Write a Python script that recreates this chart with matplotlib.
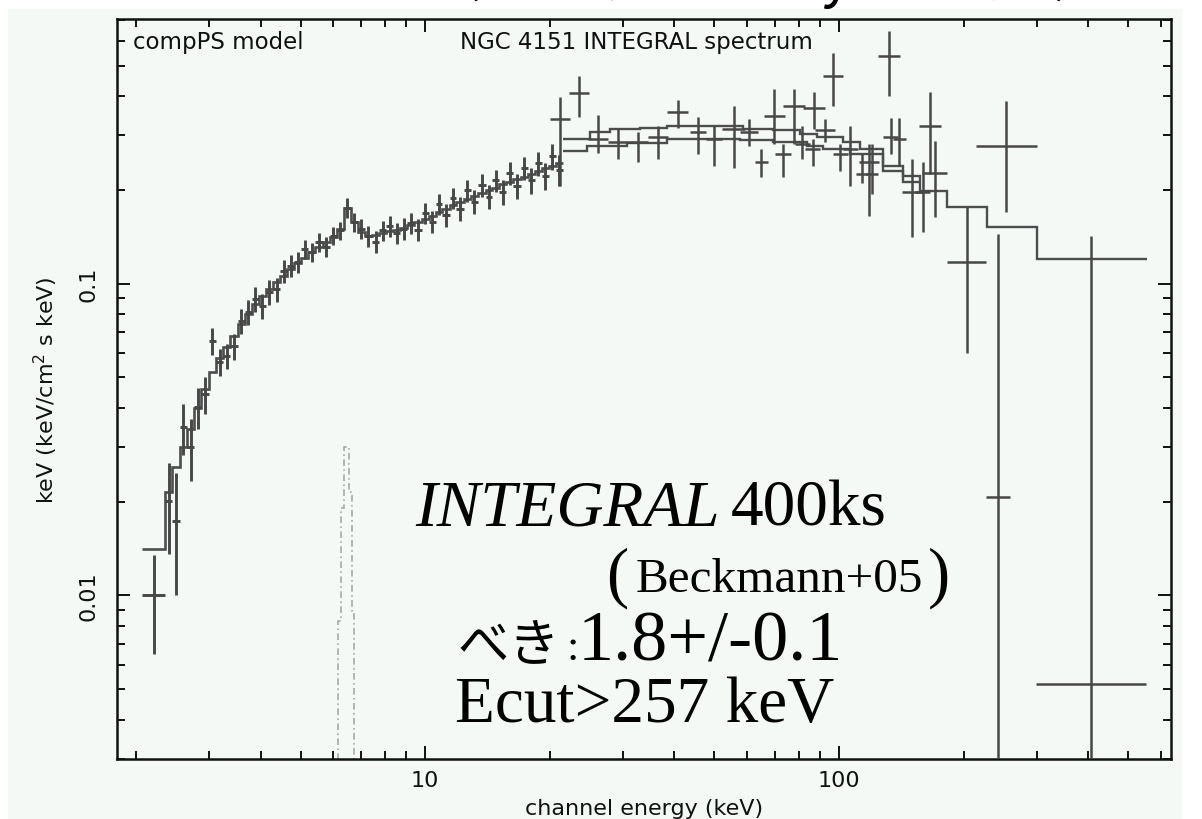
import matplotlib
matplotlib.use('Agg')
import matplotlib.pyplot as plt
import numpy as np
from matplotlib.ticker import LogLocator, NullFormatter
from matplotlib.patches import Rectangle

W, H = 1202, 820
BG = '#f4f9f6'
DATA_C = '#474747'
MODEL_C = '#4d4d4d'
FE_C = '#a8a8a8'

# ---------------- data ----------------
# JEM-X (low energy) channel edges [keV], flux, error, model
jemx_edges = [2.07, 2.35, 2.45, 2.55, 2.66, 2.77, 2.88, 3.00, 3.12, 3.25, 3.38,
              3.52, 3.66, 3.81, 3.96, 4.12, 4.29, 4.46, 4.64, 4.83, 5.02, 5.22,
              5.43, 5.65, 5.88, 6.11, 6.36, 6.61, 6.88, 7.15, 7.44, 7.74, 8.05,
              8.37, 8.71, 9.06, 9.42, 9.80, 10.2, 10.6, 11.0, 11.5, 11.9, 12.4,
              12.9, 13.4, 14.0, 14.5, 15.1, 15.7, 16.3, 17.0, 17.7, 18.4, 19.1,
              19.9, 20.7, 21.5]
jemx_flux = [0.0100, 0.0201, 0.0173, 0.0347, 0.0300, 0.0402, 0.0443, 0.0654,
             0.0560, 0.0586, 0.0630, 0.0758, 0.0810, 0.0892, 0.0847, 0.0940,
             0.0960, 0.1096, 0.1140, 0.1170, 0.1290, 0.1260, 0.1360, 0.1310,
             0.1420, 0.1480, 0.1750, 0.1570, 0.1500, 0.1420, 0.1360, 0.1480,
             0.1530, 0.1450, 0.1500, 0.1560, 0.1490, 0.1680, 0.1580, 0.1800,
             0.1660, 0.1880, 0.1740, 0.1990, 0.1830, 0.2070, 0.1900, 0.2140,
             0.1970, 0.2260, 0.2050, 0.2350, 0.2140, 0.2430, 0.2220, 0.2560,
             0.2320]
jemx_err = [0.0035, 0.0065, 0.0073, 0.0065, 0.0068, 0.0060, 0.0060, 0.0065,
            0.0055, 0.0055, 0.0060, 0.0070, 0.0075, 0.0080, 0.0080, 0.0085,
            0.0085, 0.0090, 0.0090, 0.0090, 0.0090, 0.0090, 0.0095, 0.0095,
            0.0095, 0.0100, 0.0130, 0.0110, 0.0110, 0.0110, 0.0110, 0.0110,
            0.0115, 0.0115, 0.0120, 0.0120, 0.0125, 0.0130, 0.0130, 0.0140,
            0.0140, 0.0150, 0.0150, 0.0160, 0.0160, 0.0170, 0.0170, 0.0180,
            0.0180, 0.0190, 0.0190, 0.0200, 0.0200, 0.0210, 0.0220, 0.0240,
            0.0260]
jemx_model = [0.0141, 0.0215, 0.0258, 0.0300, 0.0342, 0.0400, 0.0460, 0.0520,
              0.0575, 0.0625, 0.0680, 0.0740, 0.0800, 0.0860, 0.0910, 0.0960,
              0.1010, 0.1060, 0.1110, 0.1160, 0.1210, 0.1260, 0.1310, 0.1360,
              0.1410, 0.1500, 0.1750, 0.1580, 0.1460, 0.1420, 0.1430, 0.1450,
              0.1470, 0.1490, 0.1510, 0.1540, 0.1570, 0.1610, 0.1650, 0.1690,
              0.1740, 0.1780, 0.1830, 0.1870, 0.1910, 0.1950, 0.1990, 0.2030,
              0.2080, 0.2120, 0.2160, 0.2200, 0.2250, 0.2290, 0.2340, 0.2390,
              0.2440]

# Hard X-ray points (ISGRI / SPI): bin low, bin high, flux, flux low, flux high
hard_elo = [20.0, 22.2, 24.8, 27.7, 30.9, 34.5, 38.4, 43.7, 47.7, 52.2, 57.7,
            62.6, 65.7, 70.1, 73.3, 78.2, 81.8, 82.8, 87.4, 91.4, 96.7, 102.0,
            112.0, 110.0, 116.0, 124.0, 128.0, 135.0, 142.0, 153.0, 156.0,
            159.0, 182.0, 214.0, 227.0, 299.0]
hard_ehi = [22.4, 24.9, 27.7, 30.9, 34.5, 38.6, 43.2, 47.7, 52.2, 59.4, 63.6,
            67.3, 74.1, 76.4, 82.8, 85.1, 92.5, 90.0, 97.8, 102.0, 105.0, 111.0,
            125.0, 118.0, 124.0, 140.0, 139.0, 145.0, 159.0, 166.0, 176.0,
            182.0, 227.0, 301.0, 259.0, 551.0]
hard_flux = [0.336, 0.407, 0.290, 0.284, 0.284, 0.296, 0.355, 0.306, 0.290,
             0.313, 0.306, 0.245, 0.344, 0.260, 0.370, 0.280, 0.365, 0.270,
             0.310, 0.463, 0.260, 0.270, 0.245, 0.225, 0.225, 0.536, 0.296,
             0.290, 0.197, 0.197, 0.320, 0.226, 0.117, 0.276, 0.0207, 0.0052]
hard_flo = [0.205, 0.341, 0.263, 0.251, 0.246, 0.251, 0.316, 0.260, 0.238,
            0.234, 0.276, 0.220, 0.280, 0.220, 0.280, 0.251, 0.313, 0.238,
            0.284, 0.370, 0.230, 0.205, 0.165, 0.210, 0.194, 0.400, 0.260,
            0.238, 0.141, 0.146, 0.225, 0.163, 0.060, 0.169, 0.0001, 0.0001]
hard_fhi = [0.396, 0.462, 0.348, 0.313, 0.306, 0.320, 0.388, 0.341, 0.320,
            0.370, 0.337, 0.270, 0.420, 0.280, 0.420, 0.320, 0.410, 0.290,
            0.337, 0.550, 0.280, 0.320, 0.280, 0.260, 0.280, 0.645, 0.340,
            0.340, 0.250, 0.245, 0.410, 0.286, 0.176, 0.384, 0.144, 0.142]

# folded models for the two hard X-ray instruments
model_a_edges = [21.5, 25.0, 28.0, 33.1, 38.4, 47.5, 58.6, 69.3, 80.5, 88.5,
                 102.2, 112.4, 127.7, 142.8, 157.0, 182.4, 227.8, 300.8, 554.6]
model_a_vals = [0.290, 0.306, 0.313, 0.316, 0.3205, 0.3205, 0.313, 0.310,
                0.301, 0.296, 0.284, 0.270, 0.238, 0.222, 0.198, 0.176, 0.152,
                0.120]
model_b_edges = [21.5, 24.6, 30.7, 38.4, 57.5, 69.3, 83.6, 91.4, 106.3, 127.7,
                 142.8, 157.0]
model_b_vals = [0.266, 0.276, 0.282, 0.290, 0.288, 0.284, 0.276, 0.270, 0.260,
                0.2295, 0.2115]

# Fe K line component
fe_edges = [6.17, 6.26, 6.35, 6.56, 6.65, 6.74]
fe_vals = [0.0083, 0.019, 0.030, 0.0215, 0.0087]

x_ticks = [10, 100]
x_tick_labels = ['10', '100']
y_ticks = [0.01, 0.1]
y_tick_labels = ['0.01', '0.1']


def fx(px):
    return px / W


def fy(py):
    return 1 - py / H


fig = plt.figure(figsize=(W / 100, H / 100), dpi=100)
fig.patch.set_facecolor('white')
fig.patches.append(Rectangle((fx(8), 0), (1182 - 8) / W, (H - 10) / H,
                             transform=fig.transFigure, facecolor=BG,
                             edgecolor='none', zorder=-5))

ax = fig.add_axes([fx(117), fy(759.5), 1054 / W, 739.5 / H])
ax.set_facecolor(BG)
ax.set_xscale('log')
ax.set_yscale('log')
ax.set_xlim(1.80, 634)
ax.set_ylim(0.003, 0.705)

# JEM-X
je = np.array(jemx_edges)
jlo, jhi = je[:-1], je[1:]
jc = np.sqrt(jlo * jhi)
jf = np.array(jemx_flux)
jerr = np.array(jemx_err)
ax.errorbar(jc, jf, xerr=[jc - jlo, jhi - jc], yerr=jerr, fmt='none',
            ecolor=DATA_C, elinewidth=2.1, capsize=0, zorder=3)
ax.stairs(jemx_model, jemx_edges, baseline=None, color=MODEL_C, lw=1.9, zorder=2)

# hard X-ray
hlo = np.array(hard_elo)
hhi = np.array(hard_ehi)
hc = np.sqrt(hlo * hhi)
hf = np.array(hard_flux)
ax.errorbar(hc, hf, xerr=[hc - hlo, hhi - hc],
            yerr=[hf - np.array(hard_flo), np.array(hard_fhi) - hf], fmt='none',
            ecolor=DATA_C, elinewidth=1.8, capsize=0, zorder=3)
ax.stairs(model_a_vals, model_a_edges, baseline=None, color=MODEL_C, lw=1.7, zorder=2)
ax.stairs(model_b_vals, model_b_edges, baseline=None, color=MODEL_C, lw=1.7, zorder=2)

# Fe line
ax.stairs(fe_vals, fe_edges, baseline=1e-4, color=FE_C, lw=1.2,
          linestyle=(0, (4, 2, 1, 2)), zorder=2)

# ticks
ax.set_xticks(x_ticks)
ax.set_xticklabels(x_tick_labels)
ax.set_yticks(y_ticks)
ax.set_yticklabels(y_tick_labels)
ax.xaxis.set_minor_locator(LogLocator(base=10, subs=np.arange(2, 10), numticks=50))
ax.yaxis.set_minor_locator(LogLocator(base=10, subs=np.arange(2, 10), numticks=50))
ax.xaxis.set_minor_formatter(NullFormatter())
ax.yaxis.set_minor_formatter(NullFormatter())
ax.tick_params(which='both', direction='in', top=True, right=True,
               color='#111111', width=1.4, labelsize=16, labelcolor='#111111')
ax.tick_params(which='major', length=9.5)
ax.tick_params(which='minor', length=5.5)
ax.tick_params(axis='x', which='major', pad=8)
ax.tick_params(axis='y', which='major', pad=13, labelrotation=90)
for lab in ax.get_yticklabels():
    lab.set_va('center')
for s in ax.spines.values():
    s.set_linewidth(1.8)
    s.set_color('#111111')

ax.set_xlabel('channel energy (keV)', fontsize=16, color='#111111')
ax.set_ylabel('keV (keV/cm$^2$ s keV)', fontsize=16, color='#111111')
ax.xaxis.set_label_coords(0.5, -(799 - 759.5) / 739.5)
ax.yaxis.set_label_coords((60 - 117) / 1054, 0.5)

# PGPLOT header labels
fig.text(fx(133), fy(42), 'compPS model', fontsize=16.5, va='center', ha='left',
         color='#111111')
fig.text(fx(460), fy(42), 'NGC 4151 INTEGRAL spectrum', fontsize=16.5,
         va='center', ha='left', color='#111111')

# cut-off Japanese title at the top edge
fig.text(fx(425), fy(-4.5), '（最も明るいSeyfert銀河）', fontsize=40,
         family=['Noto Sans CJK JP', 'DejaVu Sans'], va='baseline', ha='left',
         color='black')

# annotations
SERIF = ['Liberation Serif', 'DejaVu Serif']
fig.text(fx(415), fy(526), 'INTEGRAL', fontsize=47, family=SERIF, style='italic',
         va='baseline', ha='left', color='black')
fig.text(fx(731), fy(526), '400ks', fontsize=47, family=SERIF,
         va='baseline', ha='left', color='black')
fig.text(fx(606), fy(595), '(', fontsize=48, family=SERIF, va='baseline',
         ha='left', color='black')
fig.text(fx(636), fy(592), 'Beckmann+05', fontsize=35.5, family=SERIF,
         va='baseline', ha='left', color='black')
fig.text(fx(928), fy(595), ')', fontsize=48, family=SERIF, va='baseline',
         ha='left', color='black')
fig.text(fx(458), fy(660), 'べき', fontsize=37,
         family=['Noto Sans CJK JP', 'DejaVu Sans'], va='baseline', ha='left',
         color='black')
fig.text(fx(567), fy(660), ':', fontsize=32, family=SERIF, va='baseline',
         ha='left', color='black')
fig.text(fx(578), fy(660), '1.8+/-0.1', fontsize=52, family=SERIF,
         va='baseline', ha='left', color='black')
fig.text(fx(455), fy(722), 'Ecut>257 keV', fontsize=47, family=SERIF,
         va='baseline', ha='left', color='black')

fig.savefig('out.png', dpi=100, facecolor='white')
